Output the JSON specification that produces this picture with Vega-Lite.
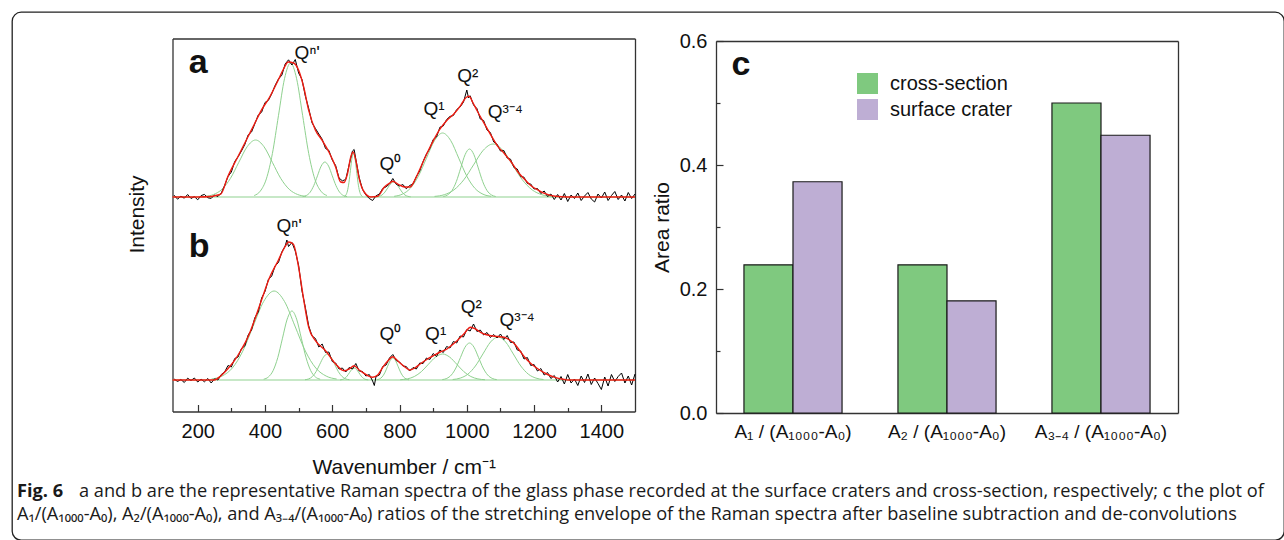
{
"$schema": "https://vega.github.io/schema/vega-lite/v6.json",
"width": 1272, "height": 528,
"autosize": {"type": "none"},
"padding": {"left": 12, "top": 12, "right": 0, "bottom": 0},
"background": "#ffffff",
"config": {
  "view": {"stroke": "#222222", "strokeWidth": 1.3, "cornerRadius": 9},
  "font": "Liberation Sans",
  "axis": {"grid": false, "labelFont": "Liberation Sans", "titleFont": "Liberation Sans", "labelColor": "#111111", "titleColor": "#111111", "domainColor": "#333333", "tickColor": "#333333", "domainWidth": 1.3, "tickWidth": 1.2, "titleFontWeight": "normal", "labelFlush": false, "labelOverlap": false, "minExtent": 0}
},
"datasets": {
  "base": [
    {"c": "base_a", "wn": 125, "v": 214.5}, {"c": "base_a", "wn": 1500, "v": 214.5},
    {"c": "base_b", "wn": 125, "v": 31.5}, {"c": "base_b", "wn": 1500, "v": 31.5}
  ],
  "comp": [
    {"c":"a1","wn":222,"v":215.1},{"c":"a1","wn":247,"v":217.0},{"c":"a1","wn":272,"v":222.2},{"c":"a1","wn":297,"v":233.0},{"c":"a1","wn":322,"v":249.1},{"c":"a1","wn":347,"v":264.8},{"c":"a1","wn":372,"v":271.5},{"c":"a1","wn":397,"v":264.8},{"c":"a1","wn":422,"v":249.1},{"c":"a1","wn":447,"v":233.0},{"c":"a1","wn":472,"v":222.2},{"c":"a1","wn":497,"v":217.0},{"c":"a1","wn":522,"v":215.1},
    {"c":"a2","wn":368,"v":216.0},{"c":"a2","wn":386,"v":220.4},{"c":"a2","wn":404,"v":232.6},{"c":"a2","wn":422,"v":258.0},{"c":"a2","wn":440,"v":295.8},{"c":"a2","wn":458,"v":332.8},{"c":"a2","wn":476,"v":348.5},{"c":"a2","wn":494,"v":332.8},{"c":"a2","wn":512,"v":295.8},{"c":"a2","wn":530,"v":258.0},{"c":"a2","wn":548,"v":232.6},{"c":"a2","wn":566,"v":220.4},{"c":"a2","wn":584,"v":216.0},
    {"c":"a3","wn":512,"v":214.9},{"c":"a3","wn":523,"v":216.0},{"c":"a3","wn":534,"v":219.2},{"c":"a3","wn":545,"v":225.9},{"c":"a3","wn":556,"v":235.7},{"c":"a3","wn":567,"v":245.4},{"c":"a3","wn":578,"v":249.5},{"c":"a3","wn":589,"v":245.4},{"c":"a3","wn":600,"v":235.7},{"c":"a3","wn":611,"v":225.9},{"c":"a3","wn":622,"v":219.2},{"c":"a3","wn":633,"v":216.0},{"c":"a3","wn":644,"v":214.9},
    {"c":"a4","wn":636,"v":215.0},{"c":"a4","wn":640.5,"v":216.4},{"c":"a4","wn":645,"v":220.5},{"c":"a4","wn":649.5,"v":228.8},{"c":"a4","wn":654,"v":241.2},{"c":"a4","wn":658.5,"v":253.3},{"c":"a4","wn":663,"v":258.5},{"c":"a4","wn":667.5,"v":253.3},{"c":"a4","wn":672,"v":241.2},{"c":"a4","wn":676.5,"v":228.8},{"c":"a4","wn":681,"v":220.5},{"c":"a4","wn":685.5,"v":216.4},{"c":"a4","wn":690,"v":215.0},
    {"c":"a5","wn":731,"v":214.7},{"c":"a5","wn":739.5,"v":215.2},{"c":"a5","wn":748,"v":216.5},{"c":"a5","wn":756.5,"v":219.4},{"c":"a5","wn":765,"v":223.6},{"c":"a5","wn":773.5,"v":227.7},{"c":"a5","wn":782,"v":229.5},{"c":"a5","wn":790.5,"v":227.7},{"c":"a5","wn":799,"v":223.6},{"c":"a5","wn":807.5,"v":219.4},{"c":"a5","wn":816,"v":216.5},{"c":"a5","wn":824.5,"v":215.2},{"c":"a5","wn":833,"v":214.7},
    {"c":"a6","wn":784,"v":215.2},{"c":"a6","wn":808,"v":217.3},{"c":"a6","wn":832,"v":223.2},{"c":"a6","wn":856,"v":235.3},{"c":"a6","wn":880,"v":253.3},{"c":"a6","wn":904,"v":271.0},{"c":"a6","wn":928,"v":278.5},{"c":"a6","wn":952,"v":271.0},{"c":"a6","wn":976,"v":253.3},{"c":"a6","wn":1000,"v":235.3},{"c":"a6","wn":1024,"v":223.2},{"c":"a6","wn":1048,"v":217.3},{"c":"a6","wn":1072,"v":215.2},
    {"c":"a7","wn":930,"v":215.0},{"c":"a7","wn":943,"v":216.6},{"c":"a7","wn":956,"v":221.0},{"c":"a7","wn":969,"v":230.1},{"c":"a7","wn":982,"v":243.6},{"c":"a7","wn":995,"v":256.9},{"c":"a7","wn":1008,"v":262.5},{"c":"a7","wn":1021,"v":256.9},{"c":"a7","wn":1034,"v":243.6},{"c":"a7","wn":1047,"v":230.1},{"c":"a7","wn":1060,"v":221.0},{"c":"a7","wn":1073,"v":216.6},{"c":"a7","wn":1086,"v":215.0},
    {"c":"a8","wn":904,"v":215.1},{"c":"a8","wn":933,"v":216.8},{"c":"a8","wn":962,"v":221.7},{"c":"a8","wn":991,"v":231.7},{"c":"a8","wn":1020,"v":246.6},{"c":"a8","wn":1049,"v":261.3},{"c":"a8","wn":1078,"v":267.5},{"c":"a8","wn":1107,"v":261.3},{"c":"a8","wn":1136,"v":246.6},{"c":"a8","wn":1165,"v":231.7},{"c":"a8","wn":1194,"v":221.7},{"c":"a8","wn":1223,"v":216.8},{"c":"a8","wn":1252,"v":215.1},
    {"c":"b1","wn":241,"v":32.5},{"c":"b1","wn":272,"v":35.4},{"c":"b1","wn":303,"v":43.5},{"c":"b1","wn":334,"v":60.4},{"c":"b1","wn":365,"v":85.5},{"c":"b1","wn":396,"v":110.0},{"c":"b1","wn":427,"v":120.5},{"c":"b1","wn":458,"v":110.0},{"c":"b1","wn":489,"v":85.5},{"c":"b1","wn":520,"v":60.4},{"c":"b1","wn":551,"v":43.5},{"c":"b1","wn":582,"v":35.4},{"c":"b1","wn":613,"v":32.5},
    {"c":"b2","wn":396,"v":32.3},{"c":"b2","wn":410,"v":34.5},{"c":"b2","wn":424,"v":40.8},{"c":"b2","wn":438,"v":53.9},{"c":"b2","wn":452,"v":73.3},{"c":"b2","wn":466,"v":92.4},{"c":"b2","wn":480,"v":100.5},{"c":"b2","wn":494,"v":92.4},{"c":"b2","wn":508,"v":73.3},{"c":"b2","wn":522,"v":53.9},{"c":"b2","wn":536,"v":40.8},{"c":"b2","wn":550,"v":34.5},{"c":"b2","wn":564,"v":32.3},
    {"c":"b3","wn":519,"v":31.8},{"c":"b3","wn":530,"v":32.6},{"c":"b3","wn":541,"v":35.0},{"c":"b3","wn":552,"v":39.9},{"c":"b3","wn":563,"v":47.3},{"c":"b3","wn":574,"v":54.4},{"c":"b3","wn":585,"v":57.5},{"c":"b3","wn":596,"v":54.4},{"c":"b3","wn":607,"v":47.3},{"c":"b3","wn":618,"v":39.9},{"c":"b3","wn":629,"v":35.0},{"c":"b3","wn":640,"v":32.6},{"c":"b3","wn":651,"v":31.8},
    {"c":"b4","wn":623,"v":31.6},{"c":"b4","wn":630,"v":32.0},{"c":"b4","wn":637,"v":33.1},{"c":"b4","wn":644,"v":35.4},{"c":"b4","wn":651,"v":38.8},{"c":"b4","wn":658,"v":42.1},{"c":"b4","wn":665,"v":43.5},{"c":"b4","wn":672,"v":42.1},{"c":"b4","wn":679,"v":38.8},{"c":"b4","wn":686,"v":35.4},{"c":"b4","wn":693,"v":33.1},{"c":"b4","wn":700,"v":32.0},{"c":"b4","wn":707,"v":31.6},
    {"c":"b5","wn":732,"v":31.7},{"c":"b5","wn":740,"v":32.5},{"c":"b5","wn":748,"v":34.5},{"c":"b5","wn":756,"v":38.6},{"c":"b5","wn":764,"v":44.8},{"c":"b5","wn":772,"v":50.9},{"c":"b5","wn":780,"v":53.5},{"c":"b5","wn":788,"v":50.9},{"c":"b5","wn":796,"v":44.8},{"c":"b5","wn":804,"v":38.6},{"c":"b5","wn":812,"v":34.5},{"c":"b5","wn":820,"v":32.5},{"c":"b5","wn":828,"v":31.7},
    {"c":"b6","wn":802,"v":31.8},{"c":"b6","wn":823,"v":32.6},{"c":"b6","wn":844,"v":35.0},{"c":"b6","wn":865,"v":39.9},{"c":"b6","wn":886,"v":47.3},{"c":"b6","wn":907,"v":54.4},{"c":"b6","wn":928,"v":57.5},{"c":"b6","wn":949,"v":54.4},{"c":"b6","wn":970,"v":47.3},{"c":"b6","wn":991,"v":39.9},{"c":"b6","wn":1012,"v":35.0},{"c":"b6","wn":1033,"v":32.6},{"c":"b6","wn":1054,"v":31.8},
    {"c":"b7","wn":927,"v":31.9},{"c":"b7","wn":940.5,"v":33.1},{"c":"b7","wn":954,"v":36.5},{"c":"b7","wn":967.5,"v":43.5},{"c":"b7","wn":981,"v":53.9},{"c":"b7","wn":994.5,"v":64.2},{"c":"b7","wn":1008,"v":68.5},{"c":"b7","wn":1021.5,"v":64.2},{"c":"b7","wn":1035,"v":53.9},{"c":"b7","wn":1048.5,"v":43.5},{"c":"b7","wn":1062,"v":36.5},{"c":"b7","wn":1075.5,"v":33.1},{"c":"b7","wn":1089,"v":31.9},
    {"c":"b8","wn":958,"v":32.0},{"c":"b8","wn":980.5,"v":33.4},{"c":"b8","wn":1003,"v":37.3},{"c":"b8","wn":1025.5,"v":45.5},{"c":"b8","wn":1048,"v":57.6},{"c":"b8","wn":1070.5,"v":69.5},{"c":"b8","wn":1093,"v":74.5},{"c":"b8","wn":1115.5,"v":69.5},{"c":"b8","wn":1138,"v":57.6},{"c":"b8","wn":1160.5,"v":45.5},{"c":"b8","wn":1183,"v":37.3},{"c":"b8","wn":1205.5,"v":33.4},{"c":"b8","wn":1228,"v":32.0}
  ],
  "raw": [
    {"s":"a","wn":130,"v":216.3},{"s":"a","wn":140,"v":212.3},{"s":"a","wn":150,"v":215.3},{"s":"a","wn":160,"v":213.3},{"s":"a","wn":170,"v":217.0},{"s":"a","wn":180,"v":213.0},{"s":"a","wn":190,"v":214.9},{"s":"a","wn":200,"v":211.7},{"s":"a","wn":210,"v":215.9},{"s":"a","wn":220,"v":217.1},{"s":"a","wn":230,"v":213.7},{"s":"a","wn":240,"v":213.1},{"s":"a","wn":250,"v":216.5},{"s":"a","wn":260,"v":215.0},{"s":"a","wn":270,"v":218.5},{"s":"a","wn":280,"v":226.0},{"s":"a","wn":290,"v":235.0},{"s":"a","wn":300,"v":239.5},{"s":"a","wn":310,"v":250.0},{"s":"a","wn":320,"v":254.7},{"s":"a","wn":330,"v":260.5},{"s":"a","wn":340,"v":267.0},{"s":"a","wn":350,"v":276.6},{"s":"a","wn":360,"v":279.5},{"s":"a","wn":370,"v":287.9},{"s":"a","wn":380,"v":296.5},{"s":"a","wn":390,"v":299.3},{"s":"a","wn":400,"v":309.0},{"s":"a","wn":410,"v":311.1},{"s":"a","wn":420,"v":317.7},{"s":"a","wn":430,"v":326.0},{"s":"a","wn":440,"v":332.5},{"s":"a","wn":450,"v":336.3},{"s":"a","wn":460,"v":347.5},{"s":"a","wn":470,"v":351.7},{"s":"a","wn":480,"v":346.5},{"s":"a","wn":490,"v":352.0},{"s":"a","wn":500,"v":338.5},{"s":"a","wn":510,"v":332.0},{"s":"a","wn":520,"v":315.3},{"s":"a","wn":530,"v":303.0},{"s":"a","wn":540,"v":288.5},{"s":"a","wn":550,"v":283.0},{"s":"a","wn":560,"v":277.5},{"s":"a","wn":570,"v":272.3},{"s":"a","wn":580,"v":263.0},{"s":"a","wn":590,"v":261.1},{"s":"a","wn":600,"v":251.5},{"s":"a","wn":610,"v":246.0},{"s":"a","wn":620,"v":233.5},{"s":"a","wn":630,"v":230.7},{"s":"a","wn":640,"v":232.0},{"s":"a","wn":650,"v":246.5},{"s":"a","wn":660,"v":260.5},{"s":"a","wn":665,"v":262.0},{"s":"a","wn":670,"v":252.5},{"s":"a","wn":680,"v":234.0},{"s":"a","wn":690,"v":222.0},{"s":"a","wn":700,"v":216.5},{"s":"a","wn":710,"v":213.0},{"s":"a","wn":720,"v":211.0},{"s":"a","wn":730,"v":215.7},{"s":"a","wn":740,"v":217.5},{"s":"a","wn":750,"v":223.0},{"s":"a","wn":760,"v":224.7},{"s":"a","wn":770,"v":227.5},{"s":"a","wn":780,"v":233.0},{"s":"a","wn":790,"v":227.3},{"s":"a","wn":800,"v":225.5},{"s":"a","wn":810,"v":227.0},{"s":"a","wn":820,"v":222.7},{"s":"a","wn":830,"v":226.0},{"s":"a","wn":840,"v":227.5},{"s":"a","wn":850,"v":235.0},{"s":"a","wn":860,"v":240.5},{"s":"a","wn":870,"v":250.0},{"s":"a","wn":880,"v":257.5},{"s":"a","wn":890,"v":263.0},{"s":"a","wn":900,"v":272.0},{"s":"a","wn":910,"v":274.5},{"s":"a","wn":920,"v":284.3},{"s":"a","wn":930,"v":285.5},{"s":"a","wn":940,"v":292.0},{"s":"a","wn":950,"v":295.1},{"s":"a","wn":960,"v":296.0},{"s":"a","wn":970,"v":302.0},{"s":"a","wn":980,"v":304.5},{"s":"a","wn":990,"v":309.3},{"s":"a","wn":1000,"v":321.5},{"s":"a","wn":1005,"v":313.5},{"s":"a","wn":1010,"v":315.7},{"s":"a","wn":1020,"v":306.5},{"s":"a","wn":1030,"v":303.0},{"s":"a","wn":1040,"v":292.5},{"s":"a","wn":1050,"v":291.0},{"s":"a","wn":1060,"v":281.5},{"s":"a","wn":1070,"v":279.0},{"s":"a","wn":1080,"v":269.5},{"s":"a","wn":1090,"v":267.3},{"s":"a","wn":1100,"v":260.5},{"s":"a","wn":1110,"v":261.0},{"s":"a","wn":1120,"v":253.5},{"s":"a","wn":1130,"v":252.3},{"s":"a","wn":1140,"v":244.0},{"s":"a","wn":1150,"v":242.5},{"s":"a","wn":1160,"v":235.0},{"s":"a","wn":1170,"v":234.3},{"s":"a","wn":1180,"v":228.0},{"s":"a","wn":1190,"v":227.5},{"s":"a","wn":1200,"v":222.5},{"s":"a","wn":1210,"v":223.0},{"s":"a","wn":1220,"v":218.0},{"s":"a","wn":1230,"v":220.5},{"s":"a","wn":1240,"v":215.0},{"s":"a","wn":1250,"v":217.5},{"s":"a","wn":1260,"v":212.0},{"s":"a","wn":1270,"v":217.0},{"s":"a","wn":1280,"v":211.5},{"s":"a","wn":1290,"v":218.0},{"s":"a","wn":1300,"v":210.0},{"s":"a","wn":1310,"v":216.5},{"s":"a","wn":1320,"v":213.0},{"s":"a","wn":1330,"v":218.5},{"s":"a","wn":1340,"v":211.0},{"s":"a","wn":1350,"v":215.5},{"s":"a","wn":1360,"v":219.0},{"s":"a","wn":1370,"v":212.5},{"s":"a","wn":1380,"v":209.5},{"s":"a","wn":1390,"v":217.5},{"s":"a","wn":1400,"v":213.5},{"s":"a","wn":1410,"v":219.5},{"s":"a","wn":1420,"v":211.0},{"s":"a","wn":1430,"v":216.0},{"s":"a","wn":1440,"v":220.0},{"s":"a","wn":1450,"v":212.0},{"s":"a","wn":1460,"v":216.5},{"s":"a","wn":1470,"v":210.5},{"s":"a","wn":1480,"v":219.0},{"s":"a","wn":1490,"v":213.0},{"s":"a","wn":1500,"v":217.5},
    {"s":"b","wn":130,"v":32.5},{"s":"b","wn":140,"v":30.0},{"s":"b","wn":150,"v":32.0},{"s":"b","wn":160,"v":29.0},{"s":"b","wn":170,"v":33.3},{"s":"b","wn":180,"v":31.0},{"s":"b","wn":190,"v":33.5},{"s":"b","wn":200,"v":29.5},{"s":"b","wn":210,"v":32.3},{"s":"b","wn":220,"v":29.7},{"s":"b","wn":230,"v":33.0},{"s":"b","wn":240,"v":28.5},{"s":"b","wn":250,"v":32.7},{"s":"b","wn":260,"v":31.5},{"s":"b","wn":270,"v":37.0},{"s":"b","wn":280,"v":39.5},{"s":"b","wn":290,"v":46.0},{"s":"b","wn":300,"v":44.5},{"s":"b","wn":310,"v":53.0},{"s":"b","wn":320,"v":54.5},{"s":"b","wn":330,"v":63.0},{"s":"b","wn":340,"v":65.5},{"s":"b","wn":350,"v":76.5},{"s":"b","wn":360,"v":81.5},{"s":"b","wn":370,"v":94.0},{"s":"b","wn":380,"v":99.5},{"s":"b","wn":390,"v":113.5},{"s":"b","wn":400,"v":120.0},{"s":"b","wn":410,"v":132.0},{"s":"b","wn":420,"v":135.5},{"s":"b","wn":430,"v":145.5},{"s":"b","wn":440,"v":149.0},{"s":"b","wn":450,"v":159.5},{"s":"b","wn":460,"v":165.5},{"s":"b","wn":465,"v":171.5},{"s":"b","wn":470,"v":165.0},{"s":"b","wn":480,"v":169.0},{"s":"b","wn":490,"v":160.5},{"s":"b","wn":500,"v":146.0},{"s":"b","wn":510,"v":120.5},{"s":"b","wn":520,"v":104.0},{"s":"b","wn":530,"v":85.5},{"s":"b","wn":540,"v":75.5},{"s":"b","wn":550,"v":73.0},{"s":"b","wn":560,"v":64.5},{"s":"b","wn":570,"v":67.5},{"s":"b","wn":580,"v":59.0},{"s":"b","wn":590,"v":59.5},{"s":"b","wn":600,"v":50.0},{"s":"b","wn":610,"v":48.5},{"s":"b","wn":620,"v":42.5},{"s":"b","wn":630,"v":43.5},{"s":"b","wn":640,"v":39.5},{"s":"b","wn":650,"v":44.0},{"s":"b","wn":660,"v":42.5},{"s":"b","wn":670,"v":48.0},{"s":"b","wn":680,"v":40.5},{"s":"b","wn":690,"v":40.0},{"s":"b","wn":700,"v":35.5},{"s":"b","wn":710,"v":37.0},{"s":"b","wn":720,"v":30.5},{"s":"b","wn":725,"v":26.0},{"s":"b","wn":730,"v":35.0},{"s":"b","wn":740,"v":36.5},{"s":"b","wn":750,"v":45.0},{"s":"b","wn":760,"v":46.5},{"s":"b","wn":770,"v":53.5},{"s":"b","wn":780,"v":57.0},{"s":"b","wn":790,"v":51.0},{"s":"b","wn":800,"v":49.5},{"s":"b","wn":810,"v":45.5},{"s":"b","wn":820,"v":45.0},{"s":"b","wn":830,"v":40.5},{"s":"b","wn":840,"v":44.0},{"s":"b","wn":850,"v":42.5},{"s":"b","wn":860,"v":48.5},{"s":"b","wn":870,"v":48.0},{"s":"b","wn":880,"v":53.5},{"s":"b","wn":890,"v":52.0},{"s":"b","wn":900,"v":58.0},{"s":"b","wn":910,"v":55.0},{"s":"b","wn":920,"v":61.5},{"s":"b","wn":930,"v":59.0},{"s":"b","wn":940,"v":65.0},{"s":"b","wn":950,"v":63.5},{"s":"b","wn":960,"v":70.0},{"s":"b","wn":970,"v":68.5},{"s":"b","wn":980,"v":75.5},{"s":"b","wn":990,"v":74.5},{"s":"b","wn":1000,"v":82.0},{"s":"b","wn":1010,"v":80.5},{"s":"b","wn":1020,"v":87.5},{"s":"b","wn":1030,"v":80.0},{"s":"b","wn":1040,"v":81.5},{"s":"b","wn":1050,"v":76.5},{"s":"b","wn":1060,"v":79.0},{"s":"b","wn":1070,"v":74.0},{"s":"b","wn":1080,"v":77.0},{"s":"b","wn":1090,"v":73.5},{"s":"b","wn":1100,"v":77.5},{"s":"b","wn":1110,"v":72.0},{"s":"b","wn":1120,"v":76.0},{"s":"b","wn":1130,"v":69.0},{"s":"b","wn":1140,"v":69.5},{"s":"b","wn":1150,"v":61.5},{"s":"b","wn":1160,"v":60.5},{"s":"b","wn":1170,"v":52.5},{"s":"b","wn":1180,"v":54.0},{"s":"b","wn":1190,"v":46.0},{"s":"b","wn":1200,"v":47.0},{"s":"b","wn":1210,"v":40.5},{"s":"b","wn":1220,"v":43.0},{"s":"b","wn":1230,"v":36.5},{"s":"b","wn":1240,"v":39.0},{"s":"b","wn":1250,"v":33.0},{"s":"b","wn":1260,"v":36.0},{"s":"b","wn":1270,"v":29.5},{"s":"b","wn":1280,"v":35.0},{"s":"b","wn":1290,"v":27.5},{"s":"b","wn":1300,"v":37.0},{"s":"b","wn":1310,"v":28.5},{"s":"b","wn":1320,"v":32.5},{"s":"b","wn":1330,"v":26.0},{"s":"b","wn":1340,"v":35.5},{"s":"b","wn":1350,"v":29.0},{"s":"b","wn":1360,"v":37.5},{"s":"b","wn":1370,"v":27.0},{"s":"b","wn":1380,"v":33.5},{"s":"b","wn":1390,"v":28.0},{"s":"b","wn":1400,"v":22.0},{"s":"b","wn":1410,"v":34.5},{"s":"b","wn":1420,"v":25.5},{"s":"b","wn":1430,"v":37.0},{"s":"b","wn":1440,"v":30.0},{"s":"b","wn":1450,"v":35.0},{"s":"b","wn":1460,"v":38.5},{"s":"b","wn":1470,"v":28.5},{"s":"b","wn":1480,"v":35.5},{"s":"b","wn":1490,"v":26.5},{"s":"b","wn":1500,"v":37.5}
  ],
  "fit": [
    {"s":"a","wn":125,"v":214.5},{"s":"a","wn":200,"v":214.5},{"s":"a","wn":240,"v":215.0},{"s":"a","wn":260,"v":216.5},{"s":"a","wn":269,"v":217.5},{"s":"a","wn":289,"v":234.5},{"s":"a","wn":319,"v":254.5},{"s":"a","wn":349,"v":274.5},{"s":"a","wn":369,"v":287.8},{"s":"a","wn":389,"v":301.2},{"s":"a","wn":414,"v":314.5},{"s":"a","wn":439,"v":331.2},{"s":"a","wn":455,"v":342.5},{"s":"a","wn":469,"v":349.5},{"s":"a","wn":485,"v":348.5},{"s":"a","wn":500,"v":341.2},{"s":"a","wn":515,"v":324.5},{"s":"a","wn":530,"v":301.2},{"s":"a","wn":550,"v":281.2},{"s":"a","wn":570,"v":271.2},{"s":"a","wn":590,"v":259.5},{"s":"a","wn":610,"v":244.5},{"s":"a","wn":625,"v":229.5},{"s":"a","wn":635,"v":229.0},{"s":"a","wn":645,"v":237.5},{"s":"a","wn":655,"v":254.5},{"s":"a","wn":662,"v":259.5},{"s":"a","wn":670,"v":251.2},{"s":"a","wn":680,"v":232.8},{"s":"a","wn":695,"v":219.5},{"s":"a","wn":715,"v":214.5},{"s":"a","wn":735,"v":215.2},{"s":"a","wn":755,"v":224.5},{"s":"a","wn":771,"v":228.5},{"s":"a","wn":780,"v":230.2},{"s":"a","wn":796,"v":227.2},{"s":"a","wn":815,"v":224.5},{"s":"a","wn":831,"v":224.5},{"s":"a","wn":846,"v":231.8},{"s":"a","wn":861,"v":242.8},{"s":"a","wn":881,"v":257.8},{"s":"a","wn":901,"v":271.2},{"s":"a","wn":921,"v":282.8},{"s":"a","wn":941,"v":291.2},{"s":"a","wn":962,"v":297.8},{"s":"a","wn":982,"v":306.2},{"s":"a","wn":997,"v":313.8},{"s":"a","wn":1007,"v":315.2},{"s":"a","wn":1017,"v":309.5},{"s":"a","wn":1031,"v":300.5},{"s":"a","wn":1052,"v":287.8},{"s":"a","wn":1072,"v":276.2},{"s":"a","wn":1092,"v":265.2},{"s":"a","wn":1112,"v":257.8},{"s":"a","wn":1132,"v":249.5},{"s":"a","wn":1152,"v":239.5},{"s":"a","wn":1173,"v":231.8},{"s":"a","wn":1193,"v":225.2},{"s":"a","wn":1213,"v":221.2},{"s":"a","wn":1233,"v":217.8},{"s":"a","wn":1263,"v":215.2},{"s":"a","wn":1300,"v":214.5},{"s":"a","wn":1500,"v":214.5},
    {"s":"b","wn":125,"v":31.5},{"s":"b","wn":249,"v":31.5},{"s":"b","wn":269,"v":35.8},{"s":"b","wn":289,"v":42.5},{"s":"b","wn":309,"v":50.8},{"s":"b","wn":329,"v":61.5},{"s":"b","wn":349,"v":74.2},{"s":"b","wn":369,"v":91.5},{"s":"b","wn":389,"v":110.8},{"s":"b","wn":414,"v":134.2},{"s":"b","wn":439,"v":150.8},{"s":"b","wn":459,"v":164.5},{"s":"b","wn":470,"v":169.5},{"s":"b","wn":484,"v":167.5},{"s":"b","wn":500,"v":144.2},{"s":"b","wn":514,"v":114.2},{"s":"b","wn":530,"v":84.2},{"s":"b","wn":550,"v":70.8},{"s":"b","wn":580,"v":60.8},{"s":"b","wn":610,"v":47.5},{"s":"b","wn":635,"v":40.8},{"s":"b","wn":650,"v":42.5},{"s":"b","wn":665,"v":45.8},{"s":"b","wn":680,"v":41.5},{"s":"b","wn":690,"v":39.2},{"s":"b","wn":720,"v":34.2},{"s":"b","wn":735,"v":36.5},{"s":"b","wn":750,"v":44.2},{"s":"b","wn":765,"v":50.5},{"s":"b","wn":780,"v":54.8},{"s":"b","wn":792,"v":51.5},{"s":"b","wn":805,"v":47.5},{"s":"b","wn":820,"v":43.5},{"s":"b","wn":830,"v":41.5},{"s":"b","wn":845,"v":43.5},{"s":"b","wn":861,"v":47.5},{"s":"b","wn":881,"v":52.0},{"s":"b","wn":901,"v":55.8},{"s":"b","wn":921,"v":59.5},{"s":"b","wn":941,"v":62.5},{"s":"b","wn":956,"v":66.5},{"s":"b","wn":971,"v":70.8},{"s":"b","wn":991,"v":77.5},{"s":"b","wn":1011,"v":84.2},{"s":"b","wn":1026,"v":82.5},{"s":"b","wn":1041,"v":79.2},{"s":"b","wn":1056,"v":77.0},{"s":"b","wn":1071,"v":75.8},{"s":"b","wn":1091,"v":75.0},{"s":"b","wn":1111,"v":74.2},{"s":"b","wn":1127,"v":71.5},{"s":"b","wn":1142,"v":67.5},{"s":"b","wn":1157,"v":61.0},{"s":"b","wn":1172,"v":54.2},{"s":"b","wn":1192,"v":47.5},{"s":"b","wn":1212,"v":42.5},{"s":"b","wn":1237,"v":37.5},{"s":"b","wn":1262,"v":34.2},{"s":"b","wn":1290,"v":32.0},{"s":"b","wn":1300,"v":31.5},{"s":"b","wn":1500,"v":31.5}
  ],
  "qlab": [
    {"wn":488,"v":352.2,"t":"Qⁿ'"},{"wn":740.6,"v":241.5,"t":"Q⁰"},{"wn":871,"v":296.5,"t":"Q¹"},{"wn":971.6,"v":329.8,"t":"Q²"},{"wn":1062,"v":293.2,"t":"Q³⁻⁴"},
    {"wn":434.4,"v":179.8,"t":"Qⁿ'"},{"wn":740.6,"v":71.5,"t":"Q⁰"},{"wn":876,"v":71.5,"t":"Q¹"},{"wn":981.7,"v":98.8,"t":"Q²"},{"wn":1097,"v":85.5,"t":"Q³⁻⁴"}
  ],
  "panels": [
    {"wn":173.5,"v":338.2,"t":"a"},{"wn":173.5,"v":154.8,"t":"b"}
  ],
  "bars": [
    {"ratio":"A₁ / (A₁₀₀₀-A₀)","sample":"cross-section","value":0.239},
    {"ratio":"A₁ / (A₁₀₀₀-A₀)","sample":"surface crater","value":0.373},
    {"ratio":"A₂ / (A₁₀₀₀-A₀)","sample":"cross-section","value":0.239},
    {"ratio":"A₂ / (A₁₀₀₀-A₀)","sample":"surface crater","value":0.181},
    {"ratio":"A₃₋₄ / (A₁₀₀₀-A₀)","sample":"cross-section","value":0.500},
    {"ratio":"A₃₋₄ / (A₁₀₀₀-A₀)","sample":"surface crater","value":0.448}
  ],
  "panelc": [
    {"ratio":"A₁ / (A₁₀₀₀-A₀)","value":0.545,"label":"c"}
  ],
  "caption": [
    {"line":1,"col":"start","w":"bold","t":"Fig. 6"},
    {"line":1,"col":"after","w":"normal","t":"a and b are the representative Raman spectra of the glass phase recorded at the surface craters and cross-section, respectively; c the plot of"},
    {"line":2,"col":"start","w":"normal","t":"A₁/(A₁₀₀₀-A₀), A₂/(A₁₀₀₀-A₀), and A₃₋₄/(A₁₀₀₀-A₀) ratios of the stretching envelope of the Raman spectra after baseline subtraction and de-convolutions"}
  ]
},
"layer": [
  {
    "layer": [
      {
        "data": {"name": "base"},
        "mark": {"type": "line", "color": "#8fd18f", "strokeWidth": 1},
        "encoding": {
          "x": {"field": "wn", "type": "quantitative", "scale": {"domain": [125, 1500], "range": [160.5, 623], "nice": false, "zero": false},
                "axis": {"orient": "top", "offset": -26.5, "labels": false, "ticks": false, "title": null, "domain": true}},
          "y": {"field": "v", "type": "quantitative", "scale": {"domain": [0, 373], "range": [399.5, 26.5], "nice": false, "zero": false},
                "axis": {"orient": "right", "offset": -649, "labels": false, "ticks": false, "title": null, "domain": true}},
          "detail": {"field": "c"}
        }
      },
      {
        "data": {"name": "comp"},
        "mark": {"type": "line", "color": "#8fd18f", "strokeWidth": 1, "interpolate": "monotone"},
        "encoding": {
          "x": {"field": "wn", "type": "quantitative",
                "axis": {"orient": "bottom", "offset": -128.5, "values": [200,300,400,500,600,700,800,900,1000,1100,1200,1300,1400],
                         "tickSize": {"condition": {"test": "datum.value % 200 === 0", "value": -7}, "value": -4},
                         "labelExpr": "datum.value % 200 === 0 ? datum.label : ''", "format": "d",
                         "labelPadding": 17, "labelFontSize": 20, "title": "Wavenumber / cm⁻¹", "titleFontSize": 21, "titlePadding": 12, "domain": true}},
          "y": {"field": "v", "type": "quantitative",
                "axis": {"orient": "left", "offset": -160.5, "labels": false, "ticks": false, "title": "Intensity", "titleFontSize": 21,
                         "titleX": -25, "titleY": 202, "titleAngle": -90, "titleAlign": "center", "titleBaseline": "bottom", "domain": true}},
          "detail": {"field": "c"}
        }
      },
      {
        "data": {"name": "raw"},
        "mark": {"type": "line", "color": "#000000", "strokeWidth": 1},
        "encoding": {
          "x": {"field": "wn", "type": "quantitative", "axis": null},
          "y": {"field": "v", "type": "quantitative", "axis": null},
          "detail": {"field": "s"}
        }
      },
      {
        "data": {"name": "fit"},
        "mark": {"type": "line", "color": "#ee1c12", "strokeWidth": 1.4, "interpolate": "monotone"},
        "encoding": {
          "x": {"field": "wn", "type": "quantitative", "axis": null},
          "y": {"field": "v", "type": "quantitative", "axis": null},
          "detail": {"field": "s"}
        }
      },
      {
        "data": {"name": "qlab"},
        "mark": {"type": "text", "align": "left", "baseline": "alphabetic", "fontSize": 19, "color": "#111111", "font": "Liberation Sans"},
        "encoding": {
          "x": {"field": "wn", "type": "quantitative", "axis": null},
          "y": {"field": "v", "type": "quantitative", "axis": null},
          "text": {"field": "t"}
        }
      },
      {
        "data": {"name": "panels"},
        "mark": {"type": "text", "align": "left", "baseline": "alphabetic", "fontSize": 34, "fontWeight": "bold", "color": "#111111", "font": "Liberation Sans"},
        "encoding": {
          "x": {"field": "wn", "type": "quantitative", "axis": null},
          "y": {"field": "v", "type": "quantitative", "axis": null},
          "text": {"field": "t"}
        }
      }
    ],
    "resolve": {"axis": {"x": "independent", "y": "independent"}}
  },
  {
    "layer": [
      {
        "data": {"name": "bars"},
        "mark": {"type": "bar", "stroke": "#1a1a1a", "strokeWidth": 1.2},
        "encoding": {
          "x": {"field": "ratio", "type": "nominal", "sort": null,
                "scale": {"range": [704, 1166], "paddingInner": 0, "paddingOuter": 0},
                "axis": {"orient": "bottom", "offset": -127, "ticks": false, "labelFontSize": 19, "labelPadding": 9, "labelAngle": 0, "title": null, "domain": true}},
          "xOffset": {"field": "sample", "type": "nominal", "sort": null, "scale": {"paddingOuter": 0.57, "paddingInner": 0}},
          "y": {"field": "value", "type": "quantitative", "scale": {"domain": [0, 0.6], "range": [401, 29], "nice": false},
                "axis": {"orient": "left", "offset": -704, "values": [0, 0.1, 0.2, 0.3, 0.4, 0.5, 0.6], "format": ".1f",
                         "labelExpr": "round(datum.value * 10) % 2 === 0 ? datum.label : ''",
                         "tickSize": {"condition": {"test": "round(datum.value * 10) % 2 === 0", "value": -7}, "value": -4},
                         "labelPadding": 16, "labelFontSize": 20, "title": "Area ratio", "titleFontSize": 21, "titlePadding": 7, "domain": true}},
          "color": {"field": "sample", "type": "nominal", "sort": null,
                    "scale": {"domain": ["cross-section", "surface crater"], "range": ["#7fc97f", "#beaed4"]},
                    "legend": {"orient": "none", "legendX": 845, "legendY": 61, "title": null, "symbolType": "square", "symbolSize": 441,
                               "symbolStrokeWidth": 0, "symbolOpacity": 1, "labelFontSize": 20, "labelOffset": 12, "rowPadding": 5,
                               "labelFont": "Liberation Sans", "labelColor": "#111111"}}
        }
      },
      {
        "data": {"name": "panelc"},
        "mark": {"type": "text", "align": "left", "baseline": "alphabetic", "fontSize": 34, "fontWeight": "bold", "color": "#111111", "font": "Liberation Sans"},
        "encoding": {
          "x": {"field": "ratio", "type": "nominal", "sort": null, "bandPosition": 0.1,
                "axis": {"orient": "top", "offset": -29, "labels": false, "ticks": false, "title": null, "domain": true}},
          "y": {"field": "value", "type": "quantitative",
                "axis": {"orient": "right", "offset": -106, "labels": false, "ticks": false, "title": null, "domain": true}},
          "text": {"field": "label"}
        }
      }
    ],
    "resolve": {"axis": {"x": "independent", "y": "independent"}}
  },
  {
    "data": {"name": "caption"},
    "encoding": {
      "x": {"field": "col", "type": "nominal", "scale": {"type": "point", "domain": ["start", "after"], "range": [5, 67], "padding": 0}, "axis": null},
      "y": {"field": "line", "type": "ordinal", "scale": {"type": "point", "domain": [1, 2], "range": [485, 508], "padding": 0}, "axis": null},
      "text": {"field": "t"}
    },
    "layer": [
      {"transform": [{"filter": "datum.w === 'normal'"}],
       "mark": {"type": "text", "align": "left", "baseline": "alphabetic", "font": "Open Sans", "fontSize": 18.2, "color": "#1a1a1a"}},
      {"transform": [{"filter": "datum.w === 'bold'"}],
       "mark": {"type": "text", "align": "left", "baseline": "alphabetic", "font": "Open Sans", "fontSize": 18.2, "fontWeight": "bold", "color": "#1a1a1a"}}
    ]
  }
],
"resolve": {"scale": {"x": "independent", "y": "independent"}, "axis": {"x": "independent", "y": "independent"}}
}
